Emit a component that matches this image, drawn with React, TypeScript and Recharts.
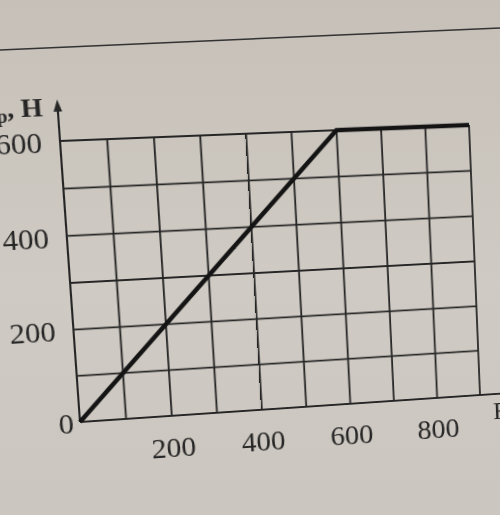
import { LineChart, Line, XAxis, YAxis, CartesianGrid, ReferenceLine } from 'recharts'

// applied force P vs friction force F (Н)
const loads = [0, 600, 900]
const friction = [0, 600, 600]

const xTicks = [0, 100, 200, 300, 400, 500, 600, 700, 800, 900]
const xLabels = [200, 400, 600, 800]
const yTicks = [0, 100, 200, 300, 400, 500, 600]
const yLabels = [0, 200, 400, 600]

const data = loads.map((p, i) => ({ p, f: friction[i] }))

const ink = '#262626'
const font = '"Liberation Serif", "DejaVu Serif", serif'

// plot corners on the flat chart -> where they sit in the photo (page is seen at a slant)
const flatCorners = [[78, 139], [478, 139], [78, 423], [478, 423]]
const photoCorners = [[60, 141], [469, 125], [80, 422], [480, 395]]

function perspective(src: number[][], dst: number[][]) {
  const A: number[][] = []
  for (let i = 0; i < 4; i++) {
    const [x, y] = src[i]
    const [X, Y] = dst[i]
    A.push([x, y, 1, 0, 0, 0, -x * X, -y * X, X])
    A.push([0, 0, 0, x, y, 1, -x * Y, -y * Y, Y])
  }
  const n = 8
  for (let c = 0; c < n; c++) {
    let piv = c
    for (let r = c + 1; r < n; r++) if (Math.abs(A[r][c]) > Math.abs(A[piv][c])) piv = r
    const tmp = A[c]; A[c] = A[piv]; A[piv] = tmp
    for (let r = 0; r < n; r++) {
      if (r === c) continue
      const k = A[r][c] / A[c][c]
      for (let j = c; j <= n; j++) A[r][j] -= k * A[c][j]
    }
  }
  const s = A.map((row, i) => row[n] / row[i])
  const [a, b, c, d, e, f, g, h] = s
  return `matrix3d(${a},${d},0,${g},${b},${e},0,${h},0,0,1,0,${c},${f},0,1)`
}

function XTick({ x, y, payload }: any) {
  if (!xLabels.includes(payload.value)) return <g />
  return (
    <text x={x} y={y + 43} textAnchor="middle" fontSize={29} fontFamily={font} fill={ink}>
      {payload.value}
    </text>
  )
}

function YTick({ x, y, payload }: any) {
  if (!yLabels.includes(payload.value)) return <g />
  const zero = payload.value === 0
  return (
    <text
      x={zero ? x - 6 : x - 17}
      y={zero ? y + 11 : y + 11}
      textAnchor="end"
      fontSize={29}
      fontFamily={font}
      fill={ink}
    >
      {payload.value}
    </text>
  )
}

export default function App() {
  return (
    <div
      style={{
        position: 'fixed', left: 0, top: 0, width: 500, height: 515, overflow: 'hidden',
        background: 'linear-gradient(180deg, #c6c0b8 0%, #cfcac3 55%, #cbc6bf 100%)',
      }}
    >
      <svg width={500} height={515} style={{ position: 'absolute', left: 0, top: 0 }}>
        <line x1={0} y1={50} x2={500} y2={28} stroke="#333" strokeWidth={1.5} />
      </svg>
      <div
        style={{
          position: 'absolute', left: 0, top: 0, width: 500, height: 515,
          transform: perspective(flatCorners, photoCorners), transformOrigin: '0 0',
        }}
      >
        <LineChart width={500} height={515} data={data} margin={{ top: 139, right: 22, bottom: 62, left: 18 }}>
          <CartesianGrid stroke={ink} strokeWidth={1.8} />
          <XAxis
            dataKey="p"
            type="number"
            domain={[0, 900]}
            ticks={xTicks}
            axisLine={false}
            tickLine={false}
            tickSize={0}
            tickMargin={0}
            height={30}
            tick={XTick}
            interval={0}
          />
          <YAxis
            type="number"
            domain={[0, 600]}
            ticks={yTicks}
            axisLine={false}
            tickLine={false}
            tickSize={0}
            tickMargin={0}
            width={60}
            tick={YTick}
            interval={0}
          />
          <ReferenceLine
            segment={[{ x: 0, y: 0 }, { x: 960, y: 0 }]}
            stroke={ink}
            strokeWidth={2}
            ifOverflow="visible"
          />
          <ReferenceLine
            segment={[{ x: 0, y: 0 }, { x: 0, y: 680 }]}
            stroke={ink}
            strokeWidth={2}
            ifOverflow="visible"
          />
          <Line
            dataKey="f"
            type="linear"
            stroke="#141414"
            strokeWidth={4.5}
            dot={false}
            isAnimationActive={false}
          />
        </LineChart>
        <svg width={500} height={515} style={{ position: 'absolute', left: 0, top: 0, pointerEvents: 'none' }}>
          <polygon points="78,98 74,110 82,110" fill={ink} />
          <text x={64} y={114} textAnchor="end" fontFamily={font} fontWeight="bold" fontSize={26} fill={ink}>
            F<tspan fontSize={18} dy={5}>тр</tspan><tspan dy={-5}>, Н</tspan>
          </text>
          <text x={491} y={450} fontFamily={font} fontSize={26} fill={ink}>
            F, Н
          </text>
        </svg>
      </div>
    </div>
  )
}
